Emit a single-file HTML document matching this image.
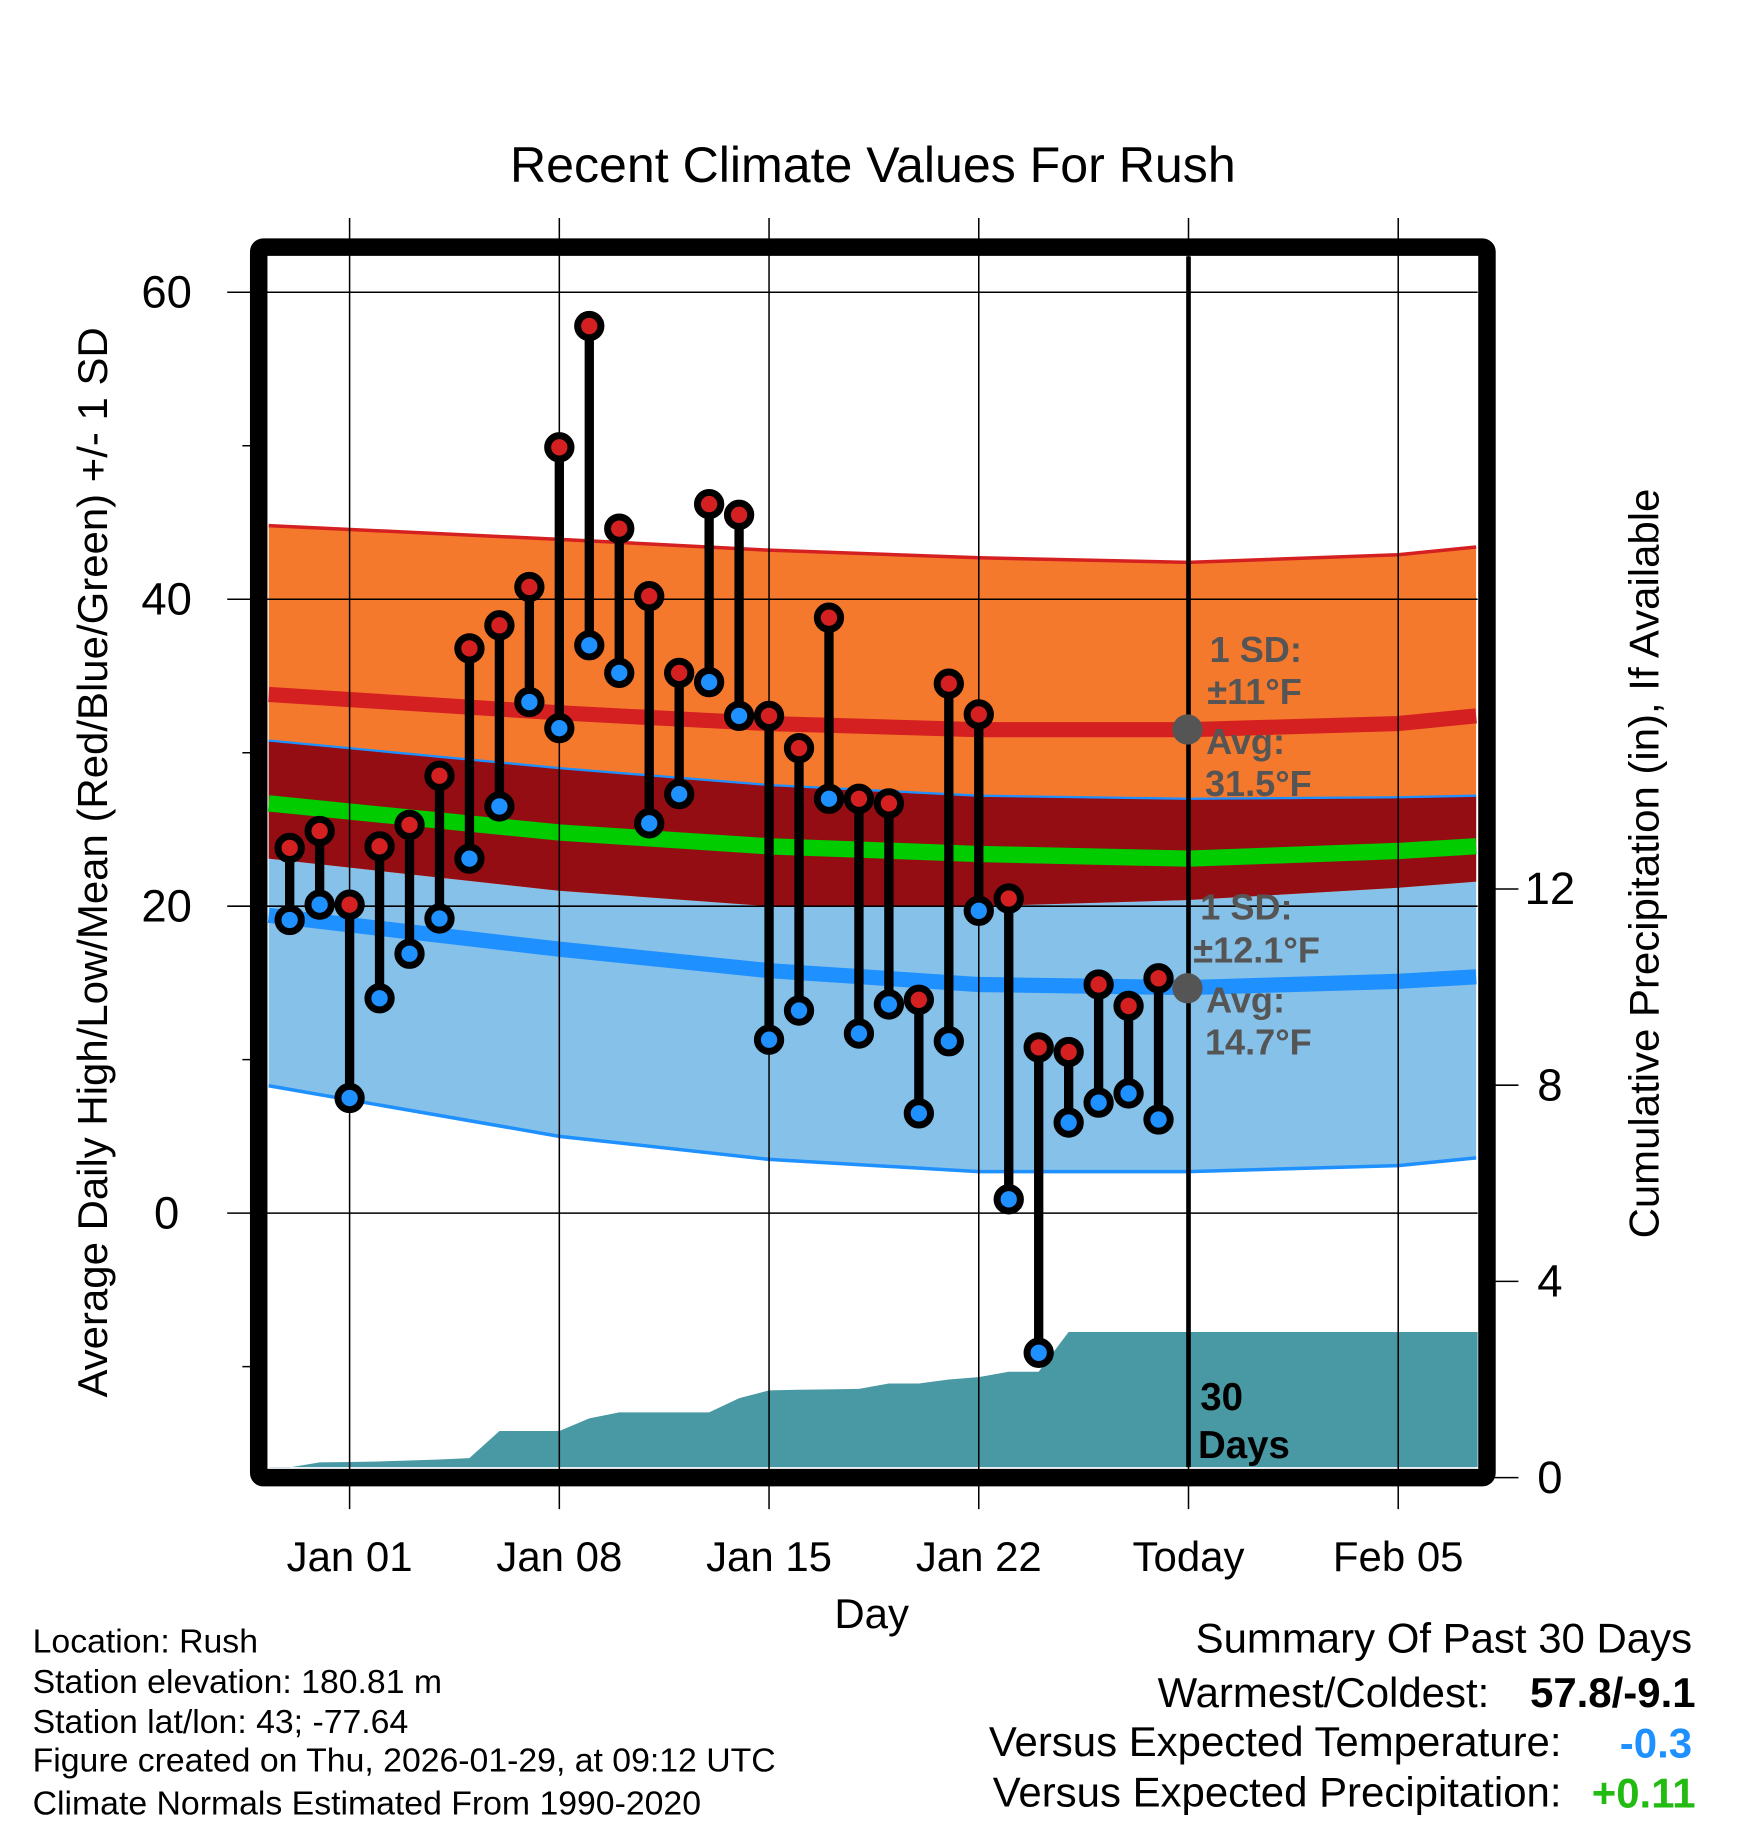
<!DOCTYPE html>
<html><head><meta charset="utf-8"><style>
html,body{margin:0;padding:0;background:#fff}
svg{display:block;font-family:"Liberation Sans",sans-serif}
</style></head><body>
<svg id="chart" xmlns="http://www.w3.org/2000/svg" width="1748" height="1828" viewBox="0 0 1500 1568.6">
<rect x="0" y="0" width="1500" height="1568.6" fill="#fff"/>
<g id="bands"></g>
<g id="precip"></g>
<g id="grid"></g>
<g id="marks"></g>
<g id="annot" font-weight="bold" fill="#555" font-size="31">
<text x="1038" y="568">1 SD:</text>
<text x="1036" y="604">±11°F</text>
<text x="1035" y="647">Avg:</text>
<text x="1034" y="683">31.5°F</text>
<text x="1030" y="789">1 SD:</text>
<text x="1024" y="826">±12.1°F</text>
<text x="1035" y="869">Avg:</text>
<text x="1034" y="905">14.7°F</text>
<circle cx="1019" cy="626" r="13" fill="#555"/>
<circle cx="1019" cy="848" r="13" fill="#555"/>
</g>
<g font-weight="bold" fill="#000" font-size="33">
<text x="1030" y="1210">30</text><text x="1028" y="1251">Days</text>
</g>
<rect x="222" y="212" width="1054" height="1056" fill="none" stroke="#000" stroke-width="15" rx="4"/>
<g id="axes"></g>
<text x="749" y="156" text-anchor="middle" font-size="43">Recent Climate Values For Rush</text>
<text transform="translate(92,740) rotate(-90)" text-anchor="middle" font-size="36">Average Daily High/Low/Mean (Red/Blue/Green) +/- 1 SD</text>
<text transform="translate(1423,741) rotate(-90)" text-anchor="middle" font-size="36">Cumulative Precipitation (in), If Available</text>
<text x="748" y="1397" text-anchor="middle" font-size="36">Day</text>
<g font-size="29">
<text x="28" y="1418">Location: Rush</text>
<text x="28" y="1453">Station elevation: 180.81 m</text>
<text x="28" y="1487">Station lat/lon: 43; -77.64</text>
<text x="28" y="1520">Figure created on Thu, 2026-01-29, at 09:12 UTC</text>
<text x="28" y="1557">Climate Normals Estimated From 1990-2020</text>
</g>
<g font-size="36" text-anchor="end">
<text x="1452" y="1418">Summary Of Past 30 Days</text>
<text x="1278" y="1465">Warmest/Coldest:</text>
<text x="1455" y="1465" font-weight="bold">57.8/-9.1</text>
<text x="1340" y="1507">Versus Expected Temperature:</text>
<text x="1452" y="1508" font-weight="bold" fill="#1e90ff">-0.3</text>
<text x="1340" y="1550">Versus Expected Precipitation:</text>
<text x="1455" y="1551" font-weight="bold" fill="#22bb11">+0.11</text>
</g>
</svg>
<script>
const dataDays=[-2,-1,0,1,2,3,4,5,6,7,8,9,10,11,12,13,14,15,16,17,18,19,20,21,22,23,24,25,26,27];
const highs=[23.8,24.9,20.1,23.9,25.3,28.5,36.8,38.3,40.8,49.9,57.8,44.6,40.2,35.2,46.2,45.5,32.4,30.3,38.8,27.0,26.7,13.9,34.5,32.5,20.5,10.8,10.5,14.9,13.5,15.3];
const lows=[19.1,20.1,7.5,14.0,16.9,19.2,23.1,26.5,33.3,31.6,37.0,35.2,25.4,27.3,34.6,32.4,11.3,13.2,27.0,11.7,13.6,6.5,11.2,19.7,0.9,-9.1,5.9,7.2,7.8,6.1];
const precipCum=[0.21,0.31,0.32,0.33,0.35,0.37,0.40,0.95,0.95,0.95,1.21,1.33,1.33,1.33,1.33,1.62,1.78,1.79,1.80,1.81,1.92,1.92,2.00,2.05,2.16,2.16,2.97,2.97,2.97,2.97];
const normDays=[-2.7,7,14,21,28,35,37.6];
const highPlusSD=[44.8,43.9,43.2,42.7,42.4,42.9,43.4];
const meanHigh=[33.8,32.6,31.9,31.5,31.5,31.9,32.4];
const highMinusSD=[23.1,21.0,20.0,20.0,20.4,21.2,21.6];
const meanAvg=[26.7,24.8,23.9,23.4,23.1,23.6,23.9];
const lowPlusSD=[30.8,29.0,27.9,27.2,27.0,27.1,27.2];
const meanLow=[19.4,17.2,15.8,14.9,14.7,15.1,15.4];
const lowMinusSD=[8.3,5.0,3.5,2.7,2.7,3.1,3.6];
const yTicks=[60,40,20,0];
const yMinor=[50,30,10,-10];
const y2Ticks=[0,4,8,12];
const xTickDays=[0,7,14,21,28,35];
const xTickLabels=["Jan 01","Jan 08","Jan 15","Jan 22","Today","Feb 05"];

const NS="http://www.w3.org/2000/svg";
const xs=d=>300+d*25.71;
const ys=v=>1041-v*13.17;
const yp=p=>1268-p*42.1;
const X0=231,X1=1268,Y0=220,Y1=1259;
function mk(tag,attrs,parent){const e=document.createElementNS(NS,tag);for(const k in attrs)e.setAttribute(k,attrs[k]);parent.appendChild(e);return e;}
const line=arr=>arr.map((v,i)=>[xs(normDays[i]),ys(v)]);
const pstr=pts=>pts.map((p,i)=>(i?'L':'M')+p[0].toFixed(1)+','+p[1].toFixed(1)).join('');
function band(top,bot){const a=line(top),b=line(bot).reverse();return pstr(a)+pstr(b).replace('M','L')+'Z';}
const bands=document.getElementById('bands');
let e;
e=mk('path',{d:band(lowPlusSD,lowMinusSD),fill:'#85c1e9'},bands);


e=mk('path',{d:band(highPlusSD,highMinusSD),fill:'#f5792d'},bands);


e=mk('path',{d:band(lowPlusSD,highMinusSD),fill:'#930d13'},bands);


const lines=[[highPlusSD,'#d42020',3,'high-plus-sd-line'],[lowPlusSD,'#1e90ff',2,'low-plus-sd-line'],[lowMinusSD,'#1e90ff',3,'low-minus-sd-line'],[meanHigh,'#d42020',13,'mean-high-line'],[meanLow,'#1e90ff',13,'mean-low-line'],[meanAvg,'#00cc00',14,'mean-avg-line']];
lines.forEach(l=>{e=mk('path',{d:pstr(line(l[0])),fill:'none',stroke:l[1],'stroke-width':l[2]},bands);

});
const pg=document.getElementById('precip');
let pts=[[X0,yp(precipCum[0])]];
dataDays.forEach((d,i)=>pts.push([xs(d),yp(precipCum[i])]));
pts.push([X1,yp(precipCum[precipCum.length-1])]);
e=mk('path',{d:pstr(pts)+'L'+X1+','+Y1+'L'+X0+','+Y1+'Z',fill:'#4899a3'},pg);


const g=document.getElementById('grid');
yTicks.forEach(v=>{e=mk('line',{x1:195,x2:X1,y1:ys(v),y2:ys(v),stroke:'#000','stroke-width':1.3},g);

});
xTickDays.forEach(d=>{e=mk('line',{x1:xs(d),x2:xs(d),y1:187,y2:1295,stroke:'#000','stroke-width':1.3},g);

});
e=mk('line',{x1:xs(28),x2:xs(28),y1:Y0,y2:Y1,stroke:'#000','stroke-width':4},g);


const m=document.getElementById('marks');
dataDays.forEach((d,i)=>{
 const x=xs(d);
 e=mk('line',{x1:x,x2:x,y1:ys(highs[i]),y2:ys(lows[i]),stroke:'#000','stroke-width':8},m);
 
 
 e=mk('circle',{cx:x,cy:ys(highs[i]),r:10,fill:'#d42020',stroke:'#000','stroke-width':6},m);
 
 
 e=mk('circle',{cx:x,cy:ys(lows[i]),r:10,fill:'#1e90ff',stroke:'#000','stroke-width':6},m);
 
 
});
const ax=document.getElementById('axes');
yTicks.forEach(v=>{e=mk('text',{x:143,y:ys(v)+13,'text-anchor':'middle','font-size':39},ax);e.textContent=v;

});
yMinor.forEach(v=>{e=mk('line',{x1:208,x2:222,y1:ys(v),y2:ys(v),stroke:'#000','stroke-width':1.3},ax);

});
y2Ticks.forEach(p=>{e=mk('line',{x1:1276,x2:1303,y1:yp(p),y2:yp(p),stroke:'#000','stroke-width':1.3},ax);


e=mk('text',{x:1330,y:yp(p)+13,'text-anchor':'middle','font-size':39},ax);e.textContent=p;

});
xTickDays.forEach((d,i)=>{e=mk('text',{x:xs(d),y:1348,'text-anchor':'middle','font-size':36},ax);e.textContent=xTickLabels[i];

});
</script>
</body></html>
